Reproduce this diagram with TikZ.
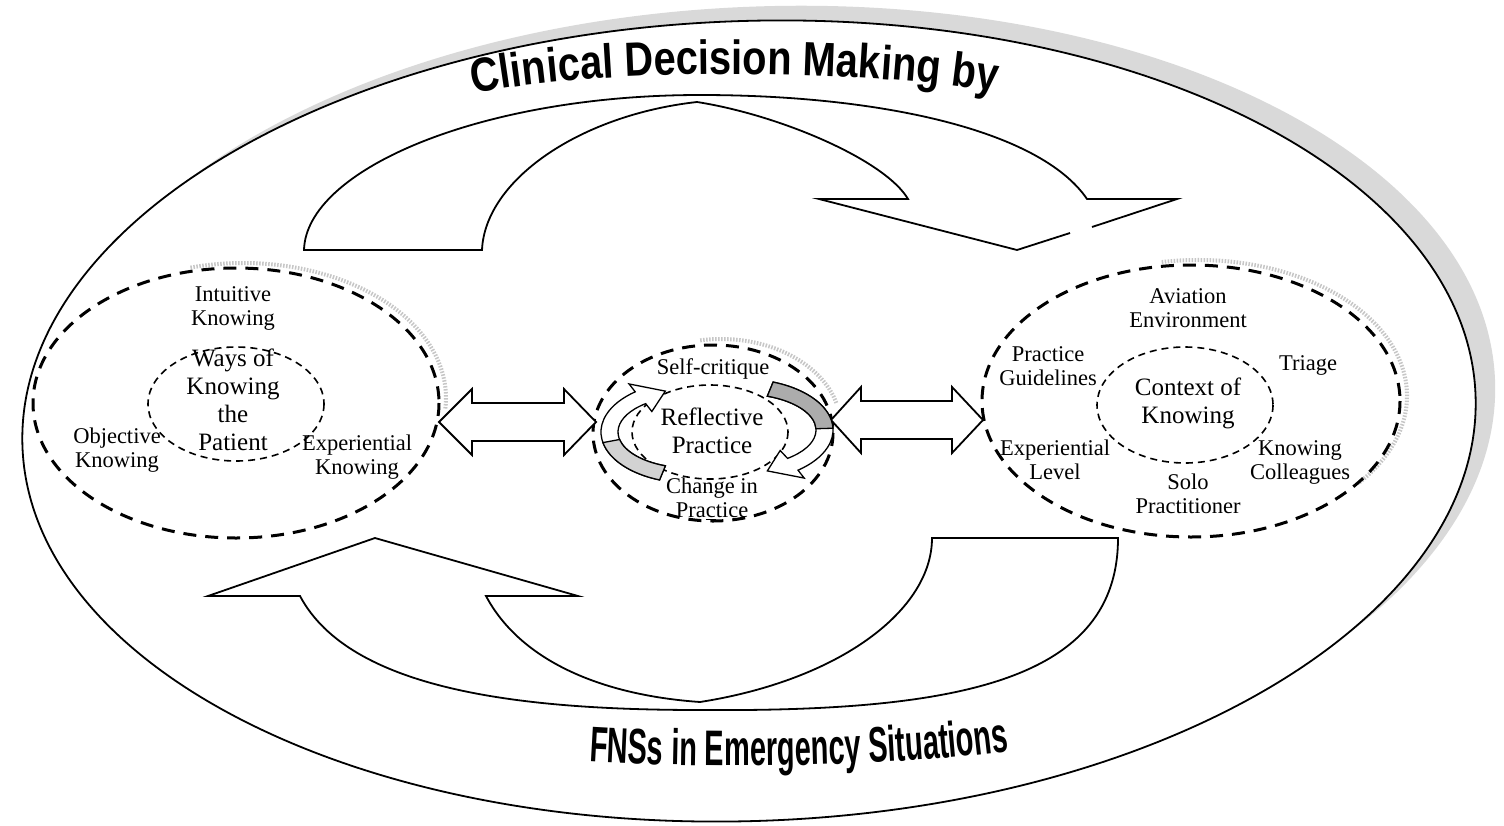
\documentclass[tikz,border=0pt]{standalone}
\usepackage{fontspec}
\setmainfont{Liberation Serif}
\newfontfamily\ttlfontA[FakeStretch=0.83]{Liberation Sans}
\newfontfamily\ttlfontB[FakeStretch=0.58]{Liberation Sans}
\usetikzlibrary{decorations.text}
\newcommand{\ttlTop}{\ttlfontA\bfseries\fontsize{48}{48}\selectfont}
\newcommand{\ttlBot}{\ttlfontB\bfseries\fontsize{50}{50}\selectfont}
\begin{document}
\begin{tikzpicture}[x=1pt,y=-1pt,
  lbl/.style={font=\fontsize{22.5}{24}\selectfont, align=center, inner sep=0pt},
  big/.style={font=\fontsize{25}{28}\selectfont, align=center, inner sep=0pt},
  thickdash/.style={line width=3pt, dash pattern=on 13pt off 9pt},
  thindash/.style={line width=1.6pt, dash pattern=on 7pt off 5pt},
  blockfill/.style={fill=white},
  blockline/.style={line width=1.8pt, line join=miter},
  shadowline/.style={gray!45, line width=4pt, dash pattern=on 1.5pt off 1.5pt},
  ringlight/.style={fill=gray!35},
  ringdark/.style={fill=gray!65},
]
\useasboundingbox (0,0) rectangle (1504,825);

% ---- outer ellipse with shadow
\coordinate (oc) at (749,421);
\fill[gray!30, rotate around={2:(oc)}] ([shift={(20,-14)}]oc) ellipse[x radius=727, y radius=400];
\draw[line width=1.8pt, fill=white, rotate around={2:(oc)}] (oc) ellipse[x radius=727, y radius=400];

% ---- centres of the dashed ellipses
\coordinate (lc) at (236,403);
\coordinate (cc) at (713,433);
\coordinate (rc) at (1191,401);

% ---- stippled shadows of dashed ellipses
\draw[shadowline] ([shift={(7,-5)}]lc) ++(-105:203 and 135) arc[start angle=-105, end angle=5, x radius=203, y radius=135];
\draw[shadowline] ([shift={(8,-6)}]cc) ++(-100:120 and 88) arc[start angle=-100, end angle=-15, x radius=120, y radius=88];
\draw[shadowline] ([shift={(7,-5)}]rc) ++(-100:209 and 136) arc[start angle=-100, end angle=40, x radius=209, y radius=136];

% ---- top curved block arrow
\fill[blockfill] (304,250) -- (482,250) .. controls (485,180) and (580,115) .. (697,102)
   .. controls (780,115) and (885,160) .. (908,199) -- (819,199) -- (1017,250) -- (1177,199)
   -- (1087,199) .. controls (1040,130) and (880,95) .. (700,95)
   .. controls (480,95) and (306,170) .. (304,250) -- cycle;
\draw[blockline] (1092,227) -- (1177,199) -- (1087,199) .. controls (1040,130) and (880,95) .. (700,95)
   .. controls (480,95) and (306,170) .. (304,250) -- (482,250)
   .. controls (485,180) and (580,115) .. (697,102)
   .. controls (780,115) and (885,160) .. (908,199) -- (819,199) -- (1017,250) -- (1070,233);

% ---- bottom curved block arrow
\filldraw[blockfill, blockline] (1118,538) -- (932,538) .. controls (932,610) and (840,680) .. (700,702)
   .. controls (600,695) and (520,660) .. (486,596) -- (578,596) -- (375,538) -- (208,596) -- (300,596)
   .. controls (350,690) and (520,710) .. (700,710)
   .. controls (960,712) and (1118,680) .. (1118,538) -- cycle;

% ---- dashed ellipses
\draw[thickdash] (lc) ellipse[x radius=203, y radius=135];
\draw[thindash] (236,404) ellipse[x radius=88, y radius=57];
\draw[thickdash] (cc) ellipse[x radius=120, y radius=88];
\draw[thindash] (710,432) ellipse[x radius=78, y radius=47];
\draw[thickdash] (rc) ellipse[x radius=209, y radius=136];
\draw[thindash] (1185,405) ellipse[x radius=88, y radius=58];

% ---- double block arrows
\filldraw[blockfill, blockline] (439,422) -- (472,389) -- (472,403) -- (564,403) -- (564,389) -- (596,422)
   -- (564,455) -- (564,441) -- (472,441) -- (472,455) -- cycle;
\filldraw[blockfill, blockline] (831,420) -- (861,387) -- (861,401) -- (952,401) -- (952,387) -- (983,420)
   -- (952,453) -- (952,439) -- (861,439) -- (861,453) -- cycle;

% ---- circular arrows around "Reflective Practice"
\coordinate (cl) at (690,432);
\coordinate (cr) at (742,430);
\filldraw[blockfill, line width=1.3pt, line join=miter]
  ([shift={(110:72 and 36)}]cl) -- ([shift={(110:89 and 51)}]cl)
  arc[start angle=110, end angle=232, x radius=89, y radius=51]
  -- ([shift={(232:99 and 61)}]cl) -- ([shift={(252:80 and 43)}]cl)
  -- ([shift={(232:62 and 26)}]cl) -- ([shift={(232:72 and 36)}]cl)
  arc[start angle=232, end angle=110, x radius=72, y radius=36] -- cycle;
\filldraw[ringlight, line width=1.3pt]
  ([shift={(110:72 and 36)}]cl) -- ([shift={(110:89 and 51)}]cl)
  arc[start angle=110, end angle=168, x radius=89, y radius=51]
  -- ([shift={(168:72 and 36)}]cl)
  arc[start angle=168, end angle=110, x radius=72, y radius=36] -- cycle;
\filldraw[blockfill, line width=1.3pt, line join=miter]
  ([shift={(-70:74 and 36)}]cr) -- ([shift={(-70:91 and 51)}]cr)
  arc[start angle=-70, end angle=52, x radius=91, y radius=51]
  -- ([shift={(52:101 and 61)}]cr) -- ([shift={(72:82 and 43)}]cr)
  -- ([shift={(52:62 and 26)}]cr) -- ([shift={(52:74 and 36)}]cr)
  arc[start angle=52, end angle=-70, x radius=74, y radius=36] -- cycle;
\filldraw[ringdark, line width=1.3pt]
  ([shift={(-70:74 and 36)}]cr) -- ([shift={(-70:91 and 51)}]cr)
  arc[start angle=-70, end angle=-2, x radius=91, y radius=51]
  -- ([shift={(-2:74 and 36)}]cr)
  arc[start angle=-2, end angle=-70, x radius=74, y radius=36] -- cycle;

% ---- left ellipse texts
\node[lbl] (intuitive) at (233,308) {Intuitive\\Knowing};
\node[big] (ways) at (233,400) {Ways of\\Knowing\\the\\Patient};
\node[lbl] (objective) at (117,450) {Objective\\Knowing};
\node[lbl] (experientialK) at (357,457) {Experiential\\Knowing};

% ---- centre texts
\node[lbl] (selfcrit) at (713,369) {Self-critique};
\node[big] (reflective) at (712,431) {Reflective\\Practice};
\node[lbl] (change) at (712,499) {Change in\\Pra\underline{c}tice};

% ---- right ellipse texts
\node[lbl] (aviation) at (1188,308) {Aviation\\Environment};
\node[lbl] (guidelines) at (1048,366) {Practice\\Guidelines};
\node[lbl] (triage) at (1308,365) {Triage};
\node[big] (context) at (1188,403) {Context of\\Knowing};
\node[lbl] (level) at (1055,460) {Experiential\\Level};
\node[lbl] (solo) at (1188,494) {Solo\\Practitioner};
\node[lbl] (colleagues) at (1300,462) {Knowing\\Colleagues};

% ---- curved titles
\path[decorate, decoration={text along path, text align=center,
   text={|\ttlTop|Clinical Decision Making by}}]
   (473,94) .. controls (600,68) and (850,68) .. (997,92);
\path[decorate, decoration={text along path, text align=center,
   text={|\ttlBot|FNSs in Emergency Situations}}]
   (596,762) .. controls (700,768) and (880,768) .. (1002,752);
\end{tikzpicture}
\end{document}
